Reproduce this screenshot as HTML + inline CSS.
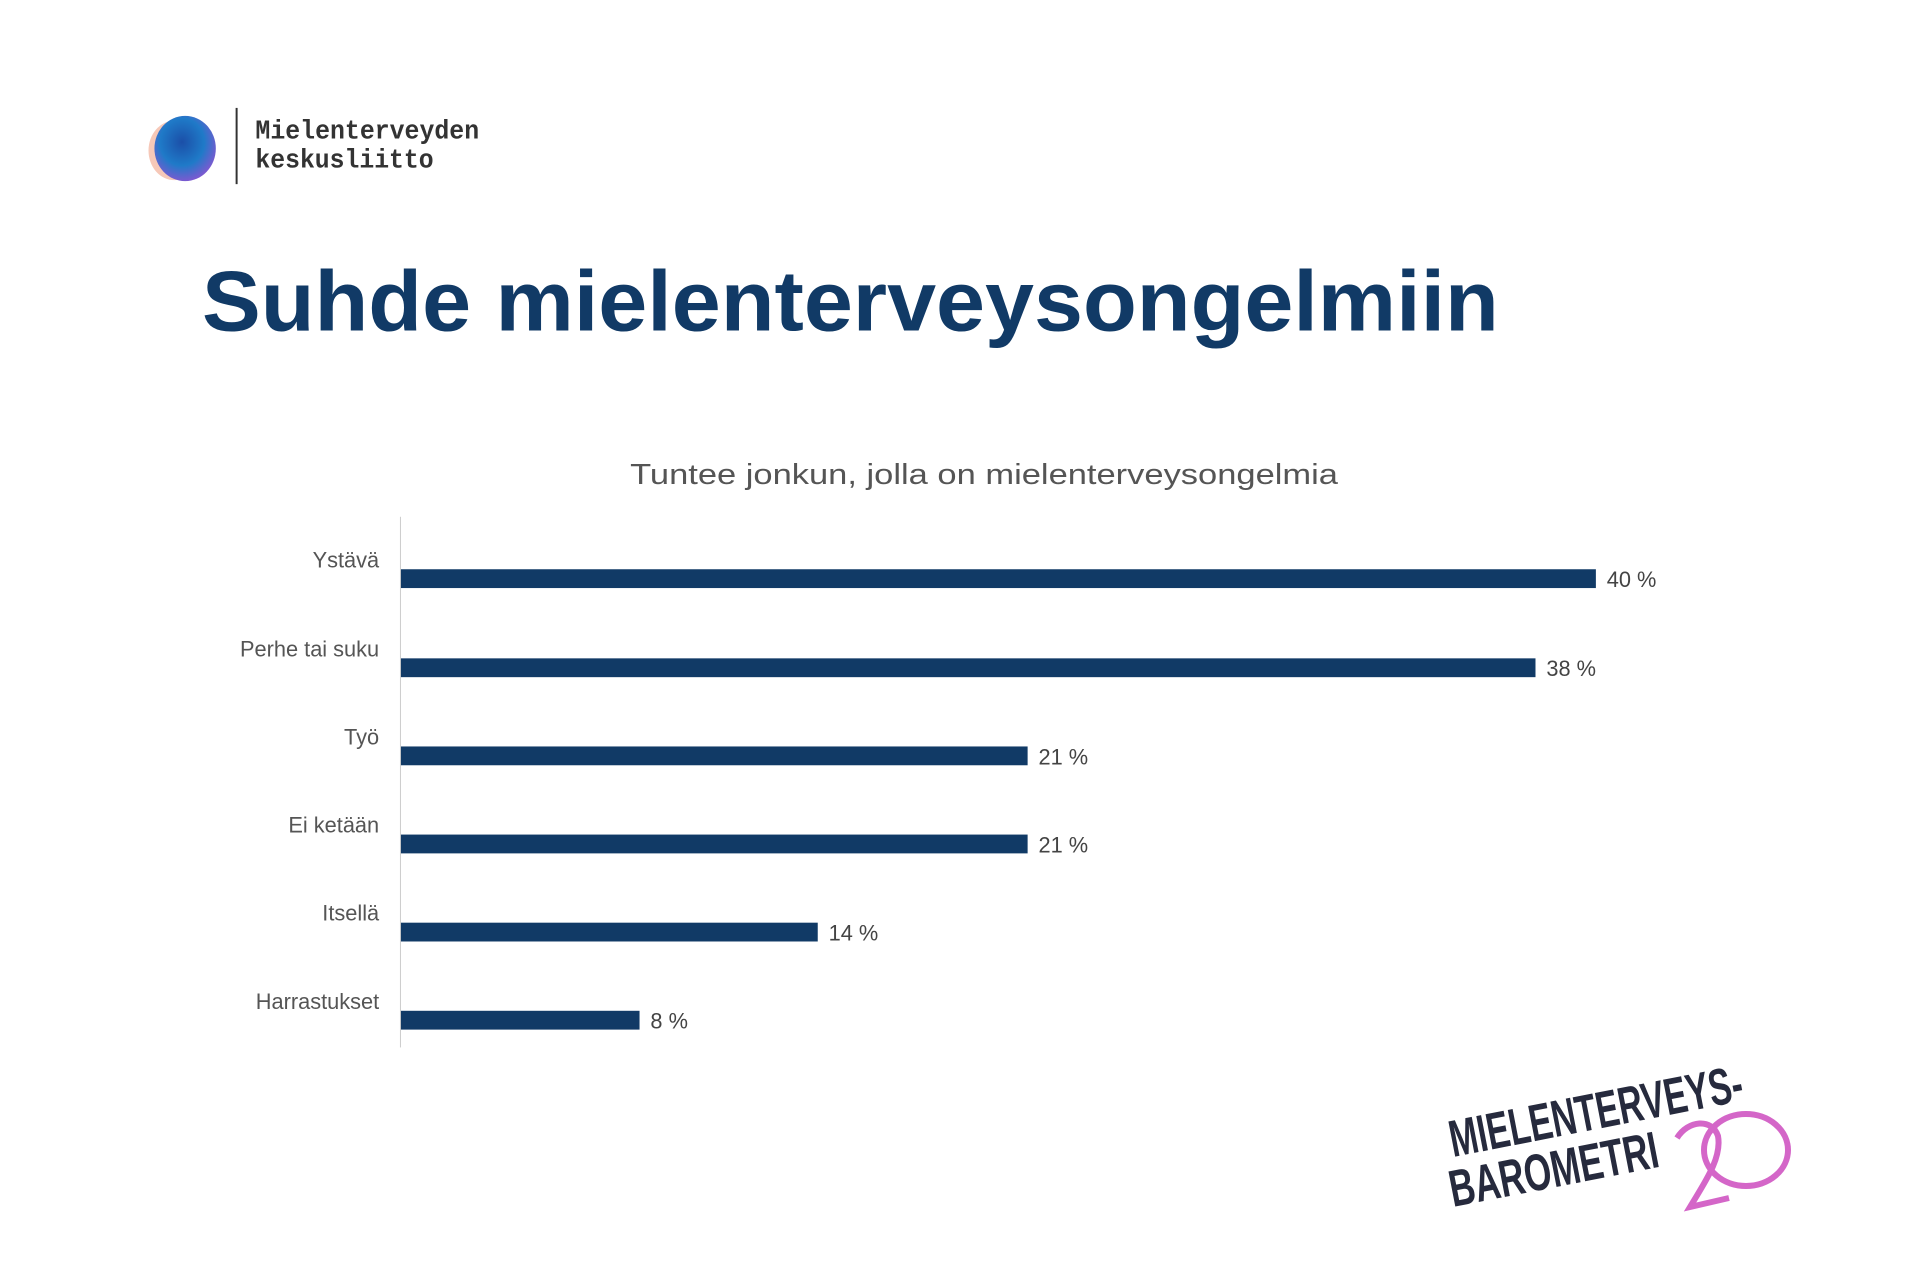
<!DOCTYPE html>
<html><head><meta charset="utf-8"><style>
html,body{margin:0;padding:0;background:#fff;}
svg{display:block}
</style></head><body>
<svg width="1920" height="1280" viewBox="0 0 1920 1280" xmlns="http://www.w3.org/2000/svg">
<defs>
<radialGradient id="g1" cx="0.45" cy="0.4" r="0.6">
<stop offset="0" stop-color="#1b4fa8"/><stop offset="0.6" stop-color="#1f7ac8"/><stop offset="1" stop-color="#7a5ad0"/>
</radialGradient>
</defs>
<rect width="1920" height="1280" fill="#fff"/>
<g transform="scale(0.99)">
<!-- logo -->
<ellipse cx="176" cy="152" rx="26" ry="30" fill="#f2b09a" opacity="0.7"/>
<ellipse cx="187" cy="150" rx="31" ry="33" fill="url(#g1)"/>
<rect x="238" y="109" width="2" height="77" fill="#333"/>
<text x="258" y="140" font-family="Liberation Mono, monospace" font-weight="bold" font-size="27" fill="#333" textLength="226" lengthAdjust="spacingAndGlyphs">Mielenterveyden</text>
<text x="258" y="169" font-family="Liberation Mono, monospace" font-weight="bold" font-size="27" fill="#333" textLength="180" lengthAdjust="spacingAndGlyphs">keskusliitto</text>
<!-- title -->
<text x="204" y="334" font-family="Liberation Sans, sans-serif" font-weight="bold" font-size="86" fill="#113a66" textLength="1310" lengthAdjust="spacingAndGlyphs">Suhde mielenterveysongelmiin</text>
<!-- subtitle -->
<text x="994" y="489" text-anchor="middle" font-family="Liberation Sans, sans-serif" font-size="29" fill="#555" textLength="715" lengthAdjust="spacingAndGlyphs">Tuntee jonkun, jolla on mielenterveysongelmia</text>
<!-- axis -->
<rect x="404" y="522" width="1" height="536" fill="#ccc"/>
<g fill="#113a66">
<rect x="405" y="575" width="1207" height="19"/>
<rect x="405" y="665" width="1146" height="19"/>
<rect x="405" y="754" width="633" height="19"/>
<rect x="405" y="843" width="633" height="19"/>
<rect x="405" y="932" width="421" height="19"/>
<rect x="405" y="1021" width="241" height="19"/>
</g>
<g font-family="Liberation Sans, sans-serif" font-size="22" fill="#555" text-anchor="end">
<text x="383" y="573">Ystävä</text>
<text x="383" y="663">Perhe tai suku</text>
<text x="383" y="752">Työ</text>
<text x="383" y="841">Ei ketään</text>
<text x="383" y="930">Itsellä</text>
<text x="383" y="1019">Harrastukset</text>
</g>
<g font-family="Liberation Sans, sans-serif" font-size="22" fill="#444">
<text x="1623" y="593">40 %</text>
<text x="1562" y="683">38 %</text>
<text x="1049" y="772">21 %</text>
<text x="1049" y="861">21 %</text>
<text x="837" y="950">14 %</text>
<text x="657" y="1039">8 %</text>
</g>
</g>
<!-- bottom logo -->
<g transform="rotate(-11 1453 1157)" font-family="Liberation Sans Narrow, Liberation Sans, sans-serif" font-weight="bold" fill="#262a3d">
<text x="1453" y="1157" font-size="52" textLength="298" lengthAdjust="spacingAndGlyphs">MIELENTERVEYS-</text>
</g>
<g transform="rotate(-11 1453 1207)" font-family="Liberation Sans Narrow, Liberation Sans, sans-serif" font-weight="bold" fill="#262a3d">
<text x="1453" y="1207" font-size="52" textLength="212" lengthAdjust="spacingAndGlyphs">BAROMETRI</text>
</g>
<g fill="none" stroke="#d466c8" stroke-width="6">
<ellipse cx="1746" cy="1150" rx="42" ry="36"/>
<path d="M1677 1138 C1688 1120 1712 1118 1718 1136 C1722 1158 1705 1182 1690 1207 L1729 1198"/>
</g>
</svg>
</body></html>
